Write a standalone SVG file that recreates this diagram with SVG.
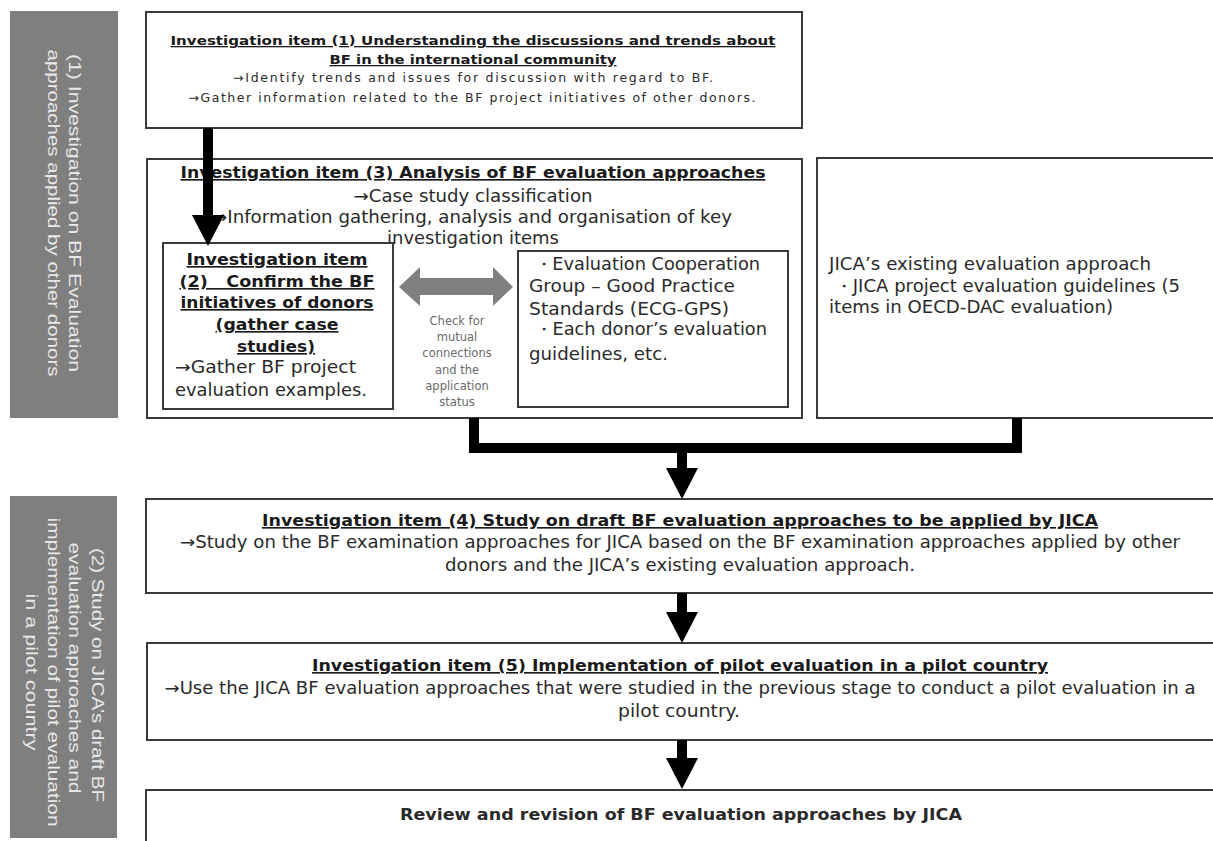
<svg xmlns="http://www.w3.org/2000/svg" width="1213" height="841" viewBox="0 0 1213 841">
<defs>
<style>
.box{fill:#fff;stroke:#3a3a3a;stroke-width:2}
.side{fill:#7f7f7f}
.st{font-family:"Liberation Sans",Arial,sans-serif;font-size:17px;fill:#e8e8e8;text-anchor:middle}
.t{font-family:"DejaVu Sans",Verdana,sans-serif;fill:#2a2a2a}
.c{text-anchor:middle}
.b{font-weight:bold;text-decoration:underline;fill:#1a1a1a}
.conn{stroke:#000;stroke-width:10;fill:none}
.sm{font-family:"DejaVu Sans",Verdana,sans-serif;font-size:11.5px;fill:#6a6a6a;text-anchor:middle}
</style>
<marker id="ah" markerUnits="userSpaceOnUse" markerWidth="31" markerHeight="32" viewBox="0 0 31 32" refX="0" refY="16" orient="auto">
<path d="M0,0 L31,16 L0,32 Z" fill="#000"/>
</marker>
</defs>

<g id="side1">
<rect class="side" x="10" y="11" width="108" height="407"/>
<text class="st" transform="translate(69,213) rotate(90)" textLength="318" lengthAdjust="spacingAndGlyphs">(1) Investigation on BF Evaluation</text>
<text class="st" transform="translate(48,213) rotate(90)" textLength="327" lengthAdjust="spacingAndGlyphs">approaches applied by other donors</text>
</g>

<g id="side2">
<rect class="side" x="10" y="496" width="107" height="342"/>
<text class="st" transform="translate(92,675) rotate(90)" textLength="254" lengthAdjust="spacingAndGlyphs">(2) Study on JICA’s draft BF</text>
<text class="st" transform="translate(69,668) rotate(90)" textLength="251" lengthAdjust="spacingAndGlyphs">evaluation approaches and</text>
<text class="st" transform="translate(48,672) rotate(90)" textLength="309" lengthAdjust="spacingAndGlyphs">implementation of pilot evaluation</text>
<text class="st" transform="translate(26,672) rotate(90)" textLength="157" lengthAdjust="spacingAndGlyphs">in a pilot country</text>
</g>

<g id="item1">
<rect class="box" x="146" y="12" width="656" height="116"/>
<text class="t c b" x="473" y="45" font-size="13" textLength="605" lengthAdjust="spacingAndGlyphs">Investigation item (1) Understanding the discussions and trends about</text>
<text class="t c b" x="473" y="64" font-size="13" textLength="287" lengthAdjust="spacingAndGlyphs">BF in the international community</text>
<text class="t c" x="473" y="82" font-size="12.5" fill="#444" textLength="480" lengthAdjust="spacing">→Identify trends and issues for discussion with regard to BF.</text>
<text class="t c" x="472" y="102" font-size="12.5" fill="#444" textLength="567" lengthAdjust="spacing">→Gather information related to the BF project initiatives of other donors.</text>
</g>

<g id="item3">
<rect class="box" x="147" y="159" width="655" height="259"/>
<text class="t c b" x="473" y="178" font-size="16.5" textLength="585" lengthAdjust="spacingAndGlyphs">Investigation item (3) Analysis of BF evaluation approaches</text>
<text class="t c" x="473" y="202" font-size="17" textLength="239" lengthAdjust="spacingAndGlyphs">→Case study classification</text>
<text class="t c" x="472" y="223" font-size="17" textLength="520" lengthAdjust="spacingAndGlyphs">→Information gathering, analysis and organisation of key</text>
<text class="t c" x="473" y="244" font-size="17" textLength="172" lengthAdjust="spacingAndGlyphs">investigation items</text>
</g>

<g id="item2">
<rect class="box" x="163" y="243" width="230" height="166"/>
<text class="t c b" x="277" y="265" font-size="16.5" textLength="181" lengthAdjust="spacingAndGlyphs">Investigation item</text>
<text class="t c b" x="277" y="287" font-size="16.5" textLength="195" lengthAdjust="spacingAndGlyphs" style="white-space:pre">(2)   Confirm the BF</text>
<text class="t c b" x="277" y="308" font-size="16.5" textLength="193" lengthAdjust="spacingAndGlyphs">initiatives of donors</text>
<text class="t c b" x="277" y="330" font-size="16.5" textLength="123" lengthAdjust="spacingAndGlyphs">(gather case</text>
<text class="t c b" x="276" y="352" font-size="16.5" textLength="78" lengthAdjust="spacingAndGlyphs">studies)</text>
<text class="t" x="175" y="373" font-size="17" textLength="181" lengthAdjust="spacingAndGlyphs">→Gather BF project</text>
<text class="t" x="175" y="396" font-size="17" textLength="192" lengthAdjust="spacingAndGlyphs">evaluation examples.</text>
</g>

<g id="standards">
<rect class="box" x="518" y="251" width="270" height="156"/>
<text class="t" x="529" y="270" font-size="17" textLength="231" lengthAdjust="spacingAndGlyphs" style="white-space:pre"> ・Evaluation Cooperation</text>
<text class="t" x="529" y="292" font-size="17" textLength="206" lengthAdjust="spacingAndGlyphs">Group – Good Practice</text>
<text class="t" x="529" y="315" font-size="17" textLength="200" lengthAdjust="spacingAndGlyphs">Standards (ECG-GPS)</text>
<text class="t" x="529" y="335" font-size="17" textLength="238" lengthAdjust="spacingAndGlyphs" style="white-space:pre"> ・Each donor’s evaluation</text>
<text class="t" x="529" y="360" font-size="17" textLength="139" lengthAdjust="spacingAndGlyphs">guidelines, etc.</text>
</g>

<g id="jica-existing">
<rect class="box" x="817" y="158" width="410" height="260"/>
<text class="t" x="829" y="270" font-size="17" textLength="322" lengthAdjust="spacingAndGlyphs">JICA’s existing evaluation approach</text>
<text class="t" x="829" y="292" font-size="17" textLength="351" lengthAdjust="spacingAndGlyphs" style="white-space:pre"> ・JICA project evaluation guidelines (5</text>
<text class="t" x="829" y="313" font-size="17" textLength="284" lengthAdjust="spacingAndGlyphs">items in OECD-DAC evaluation)</text>
</g>

<g id="item4">
<rect class="box" x="146" y="499" width="1080" height="94"/>
<text class="t c b" x="680" y="526" font-size="16.5" textLength="836" lengthAdjust="spacingAndGlyphs">Investigation item (4) Study on draft BF evaluation approaches to be applied by JICA</text>
<text class="t c" x="680" y="548" font-size="17" textLength="1000" lengthAdjust="spacingAndGlyphs">→Study on the BF examination approaches for JICA based on the BF examination approaches applied by other</text>
<text class="t c" x="680" y="571" font-size="17" textLength="470" lengthAdjust="spacingAndGlyphs">donors and the JICA’s existing evaluation approach.</text>
</g>

<g id="item5">
<rect class="box" x="147" y="643" width="1080" height="97"/>
<text class="t c b" x="680" y="671" font-size="16.5" textLength="736" lengthAdjust="spacingAndGlyphs">Investigation item (5) Implementation of pilot evaluation in a pilot country</text>
<text class="t c" x="680" y="694" font-size="17" textLength="1031" lengthAdjust="spacingAndGlyphs">→Use the JICA BF evaluation approaches that were studied in the previous stage to conduct a pilot evaluation in a</text>
<text class="t c" x="679" y="717" font-size="17" textLength="122" lengthAdjust="spacingAndGlyphs">pilot country.</text>
</g>

<g id="review">
<rect class="box" x="146" y="790" width="1080" height="70"/>
<text class="t c" x="681" y="820" font-size="16.5" font-weight="bold" fill="#1a1a1a" textLength="562" lengthAdjust="spacingAndGlyphs">Review and revision of BF evaluation approaches by JICA</text>
</g>

<g id="connectors">
<line class="conn" x1="208" y1="128" x2="208" y2="215" marker-end="url(#ah)"/>
<path class="conn" d="M474,418 V448 H1017 V418"/>
<line class="conn" x1="682" y1="448" x2="682" y2="468" marker-end="url(#ah)"/>
<line class="conn" x1="682" y1="593" x2="682" y2="612" marker-end="url(#ah)"/>
<line class="conn" x1="682" y1="740" x2="682" y2="758" marker-end="url(#ah)"/>
<polygon points="399,287 420,267 420,278 493,278 493,267 513,287 493,306 493,295 420,295 420,306" fill="#7f7f7f"/>
<text class="sm" x="457" y="325">Check for</text>
<text class="sm" x="457" y="341">mutual</text>
<text class="sm" x="457" y="357">connections</text>
<text class="sm" x="457" y="374">and the</text>
<text class="sm" x="457" y="390">application</text>
<text class="sm" x="457" y="406">status</text>
</g>
</svg>
